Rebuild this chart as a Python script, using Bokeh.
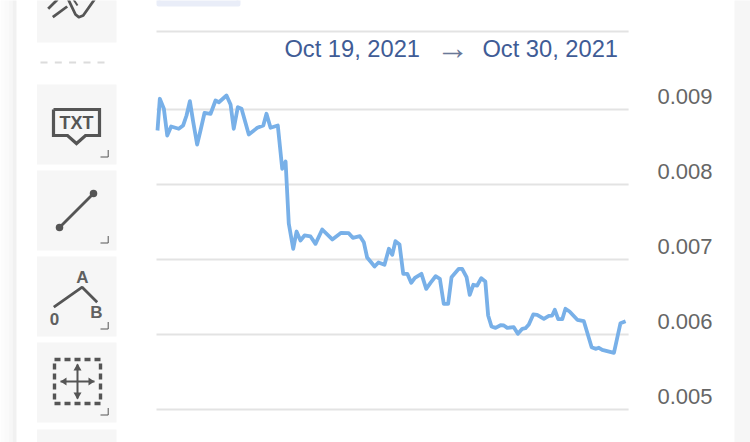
from bokeh.plotting import figure
from bokeh.embed import file_html
from bokeh.resources import INLINE
from bokeh.models import Range1d, LinearAxis, FixedTicker, PrintfTickFormatter
from bokeh.core.properties import value

# Data -----------------------------------------------------------------
hours_since_oct19 = [0, 1.3, 3.6, 5.5, 7.7, 12.0, 14.5, 16.4, 18.3, 20.2, 22.4, 24.3, 26.6, 30.0, 32.8, 34.7,
    39.0, 41.3, 43.1, 45.4, 47.5, 51.6, 56.4, 59.8, 61.6, 63.9, 68.0, 70.5, 72.4, 74.2, 76.7, 78.6,
    80.8, 83.1, 86.5, 89.3, 93.1, 98.8, 103.8, 108.1, 110.4, 114.4, 116.6, 118.5, 120.4, 122.7, 124.9, 128.3,
    130.8, 132.7, 134.5, 136.8, 138.9, 141.2, 143.4, 145.5, 149.2, 151.9, 154.3, 157.2, 159.6, 161.8, 164.3, 166.2,
    170.3, 172.2, 174.7, 176.5, 178.5, 180.7, 183.0, 185.3, 186.9, 188.8, 191.1, 193.9, 195.8, 197.7, 201.4, 203.7,
    206.2, 208.0, 209.9, 212.4, 214.6, 218.4, 221.2, 223.1, 224.6, 226.5, 228.8, 230.6, 232.9, 237.3, 241.0, 245.4,
    247.6, 249.5, 251.4, 258.0, 261.7, 264.6]
price = [0.00872, 0.009143, 0.009009, 0.008653, 0.008773, 0.008743, 0.008787, 0.00892, 0.009111, 0.008831, 0.008533,
    0.00872, 0.008956, 0.008943, 0.00912, 0.009097, 0.009187, 0.009067, 0.008743, 0.009031, 0.009009, 0.008667,
    0.008756, 0.008787, 0.008943, 0.008756, 0.008787, 0.008209, 0.008307, 0.00748, 0.007143, 0.007373, 0.007253,
    0.00732, 0.007307, 0.007209, 0.0074, 0.007267, 0.007356, 0.007351, 0.007289, 0.007311, 0.007231, 0.007027,
    0.006973, 0.006907, 0.00696, 0.006929, 0.007143, 0.007063, 0.007244, 0.0072, 0.006809, 0.006809, 0.006689,
    0.006756, 0.006809, 0.006609, 0.006689, 0.006777, 0.006743, 0.006409, 0.006409, 0.006764, 0.006876, 0.006876,
    0.006764, 0.006529, 0.006663, 0.006653, 0.006751, 0.006707, 0.006253, 0.006107, 0.006089, 0.006124, 0.00612,
    0.006089, 0.006097, 0.006009, 0.006076, 0.006084, 0.006133, 0.006267, 0.006263, 0.006209, 0.006249, 0.006253,
    0.006329, 0.006204, 0.006204, 0.006343, 0.006307, 0.006196, 0.006177, 0.005831, 0.005809, 0.005823, 0.005796,
    0.005756, 0.006151, 0.006177]
y_ticks = [0.005, 0.006, 0.007, 0.008, 0.009]
grid_levels = [0.005, 0.006, 0.007, 0.008, 0.009, 0.01004]
date_from = "Oct 19, 2021"
date_to = "Oct 30, 2021"

# Figure ---------------------------------------------------------------
p = figure(width=750, height=442, output_backend="svg", toolbar_location=None,
           x_axis_type=None, y_axis_type=None,
           x_range=Range1d(-88.75, 335.2), y_range=Range1d(0.00456, 0.0104533),
           min_border=0, min_border_left=0, min_border_right=0, min_border_top=0, min_border_bottom=0,
           outline_line_color=None, background_fill_color="white", border_fill_color="white",
           margin=(0, -8, -8, 0))
p.grid.visible = False

p.extra_x_ranges["px"] = Range1d(0, 750)
p.extra_y_ranges["px"] = Range1d(442, 0)
p.extra_y_ranges["labels"] = Range1d(0.00456 - 0.0001733, 0.0104533 - 0.0001733)
PX = dict(x_range_name="px", y_range_name="px")
ICON = "#555555"
SANS = value("Liberation Sans")

# Page chrome
for x0, x1, c in [(0, 4, "#fcfcfc"), (4, 8, "#fafafa"), (8, 12, "#f7f7f7"), (12, 16, "#f1f1f1"), (734, 750, "#f6f6f6")]:
    p.quad(left=x0, right=x1, top=-2, bottom=444, fill_color=c, line_color=None, **PX)
for top, bottom in [(-6, 42), (84, 164), (170, 250), (256, 336), (342, 422), (429, 500)]:
    p.quad(left=36.5, right=116, top=top, bottom=bottom, fill_color="#f6f6f6", line_color=None, **PX)
p.quad(left=158, right=238, top=-6, bottom=4, fill_color="#e9edf8", line_color="#e9edf8",
       line_width=4, line_join="round", **PX)
for x0 in [40, 54.3, 68.6, 83, 97]:
    p.line([x0, x0 + 7], [62, 62], line_color="#dcdcdc", line_width=2, **PX)
for by in [156.5, 242.5, 328.5, 414.5]:
    p.line([100, 107.7, 107.7], [by, by, by - 7], line_color=ICON, line_width=1, **PX)

# Partial icon on top
p.line([47.7, 57], [8.3, -1], line_color=ICON, line_width=2.8, **PX)
p.line([52.3, 66.7], [16.7, 6], line_color=ICON, line_width=2.8, **PX)
p.line([67.8, 75, 78.3, 82.7, 94], [-1, 14, 16.7, 15, -1], line_color=ICON, line_width=2.8, line_join="round", **PX)
p.line([73, 77], [-1, 5], line_color=ICON, line_width=2, **PX)

# TXT icon
p.line([53, 99, 99, 85, 76, 67, 53, 53], [109, 109, 135, 135, 143, 135, 135, 109],
       line_color=ICON, line_width=3.2, line_join="miter", **PX)
p.text([76], [122], text=["TXT"], text_font=SANS, text_font_size="18px", text_font_style="bold",
       text_color=ICON, text_align="center", text_baseline="middle", **PX)
# Line icon
p.line([59, 93], [227, 193], line_color=ICON, line_width=2.8, **PX)
p.scatter([59, 93], [227, 193], size=7.5, fill_color=ICON, line_color=None, **PX)
# Fib icon
p.line([53.3, 81.7, 96.7], [306.7, 286.7, 301.7], line_color=ICON, line_width=2.8, **PX)
p.text([82, 54, 96], [276.5, 318, 312], text=["A", "0", "B"], text_font=SANS, text_font_size="17px",
       text_font_style="bold", text_color="#606060", text_align="center", text_baseline="middle", **PX)
# Move icon
p.line([54, 100, 100, 54, 54], [359, 359, 403, 403, 359], line_color=ICON, line_width=3.4, line_dash="6 4", **PX)
p.line([60, 94], [381, 381], line_color=ICON, line_width=2, **PX)
p.line([77, 77], [364, 398], line_color=ICON, line_width=2, **PX)
p.patches([[60, 66, 66], [94, 88, 88], [77, 73, 81], [77, 73, 81]],
          [[381, 377, 385], [381, 377, 385], [363, 370, 370], [399, 392, 392]],
          fill_color=ICON, line_color=None, **PX)

# Grid lines
p.segment(x0=[-0.57] * len(grid_levels), x1=[266.3] * len(grid_levels), y0=grid_levels, y1=grid_levels,
          line_color="#e3e3e3", line_width=2)

# Series
p.line(hours_since_oct19, price, line_color="#78b0e8", line_width=3.8, line_join="round")

# Value axis, inside the frame, with labels riding above their grid lines
axis = LinearAxis(y_range_name="labels", fixed_location=273,
                  ticker=FixedTicker(ticks=y_ticks), formatter=PrintfTickFormatter(format="%.3f"),
                  axis_line_color=None, major_tick_line_color=None, minor_tick_line_color=None,
                  major_tick_out=0, major_tick_in=0, major_label_standoff=17,
                  major_label_text_font="Liberation Sans", major_label_text_font_size="22px",
                  major_label_text_color="#666666")
p.add_layout(axis, "right")

# Date range caption
p.text([351.7, 549.7], [48, 48], text=[date_from, date_to], text_font=SANS, text_font_size="23.7px",
       text_color="#3f5c96", text_align="center", text_baseline="middle", **PX)
p.text([452], [47], text=["\u2192"], text_font=SANS, text_font_size="33px", text_color="#6a7897",
       text_align="center", text_baseline="middle", **PX)

open("out.html", "w").write(file_html(p, INLINE))
